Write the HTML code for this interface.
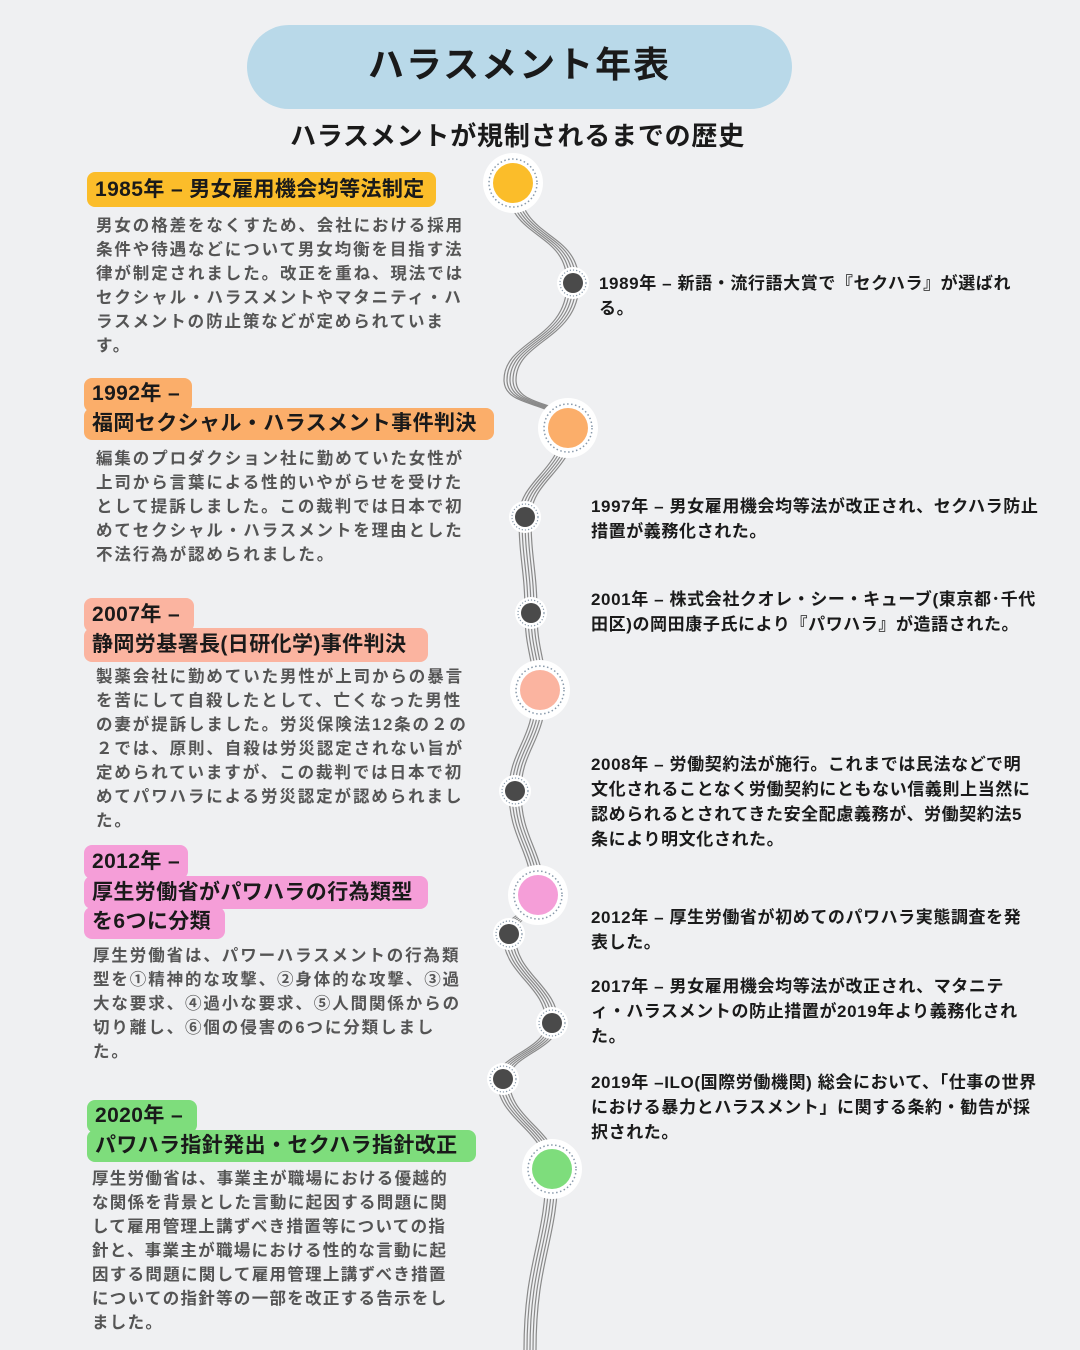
<!DOCTYPE html>
<html><head><meta charset="utf-8">
<style>
*{margin:0;padding:0;box-sizing:border-box}
body{width:1080px;height:1350px;background:#eff0f2;position:relative;overflow:hidden;font-family:"Liberation Sans","Noto Sans CJK JP",sans-serif;}
.a{position:absolute;white-space:nowrap}
.hdr{left:247px;top:25px;width:545px;height:84px;border-radius:42px;background:#b9d9e9;text-align:center;line-height:80px;font-size:36px;font-weight:bold;color:#1a1a1a;letter-spacing:2px}
.sub{left:0;width:1035px;top:120px;text-align:center;font-size:26px;font-weight:bold;color:#1a1a1a;line-height:32px;letter-spacing:0.8px}
.pill{position:absolute;border-radius:8px;font-size:21px;font-weight:bold;color:#1a1a1a;padding-left:8px;white-space:nowrap;letter-spacing:0.4px}
.body{position:absolute;white-space:nowrap;font-size:16.5px;font-weight:bold;color:#555;line-height:24px;letter-spacing:1.9px}
.r{position:absolute;white-space:nowrap;font-size:17px;font-weight:bold;color:#1a1a1a;line-height:25px;letter-spacing:0.6px}
</style></head><body>
<svg class="a" style="left:0;top:0" width="1080" height="1350">
<defs>
<path id="w" d="M513,183 C513,240 573,230 573,283 C573,340 510,340 510,380 C510,410 568,400 568,428 C568,470 525,480 525,517 C525,560 531,570 531,613 C531,650 540,660 540,690 C540,740 515,750 515,791 C515,840 538,850 538,895 C538,915 509,915 509,934 C509,975 552,985 552,1023 C552,1050 503,1055 503,1079 C503,1120 552,1130 552,1169 C552,1240 530,1260 530,1350" fill="none"/>
</defs>
<g stroke="#8a8a8a" stroke-width="1.2" fill="none">
<use href="#w" transform="translate(-6,0)"/><use href="#w" transform="translate(-3,0)"/><use href="#w"/><use href="#w" transform="translate(3,0)"/><use href="#w" transform="translate(6,0)"/>
</g>
<g>
<circle cx="513" cy="183" r="30" fill="#fff"/><circle cx="513" cy="183" r="24" fill="none" stroke="#8899aa" stroke-width="1.5" stroke-dasharray="1.5 2.5"/><circle cx="513" cy="183" r="20" fill="#fbbd2a"/>
<circle cx="568" cy="428" r="30" fill="#fff"/><circle cx="568" cy="428" r="24" fill="none" stroke="#8899aa" stroke-width="1.5" stroke-dasharray="1.5 2.5"/><circle cx="568" cy="428" r="20" fill="#fbae6a"/>
<circle cx="540" cy="690" r="30" fill="#fff"/><circle cx="540" cy="690" r="24" fill="none" stroke="#8899aa" stroke-width="1.5" stroke-dasharray="1.5 2.5"/><circle cx="540" cy="690" r="20" fill="#fbb4a0"/>
<circle cx="538" cy="895" r="30" fill="#fff"/><circle cx="538" cy="895" r="24" fill="none" stroke="#8899aa" stroke-width="1.5" stroke-dasharray="1.5 2.5"/><circle cx="538" cy="895" r="20" fill="#f59ed8"/>
<circle cx="552" cy="1169" r="30" fill="#fff"/><circle cx="552" cy="1169" r="24" fill="none" stroke="#8899aa" stroke-width="1.5" stroke-dasharray="1.5 2.5"/><circle cx="552" cy="1169" r="20" fill="#7edd7c"/>
</g>
<g>
<circle cx="573" cy="283" r="16" fill="#fff"/><circle cx="573" cy="283" r="13" fill="none" stroke="#8899aa" stroke-width="1.2" stroke-dasharray="1.2 2"/><circle cx="573" cy="283" r="10" fill="#4a4a4a"/>
<circle cx="525" cy="517" r="16" fill="#fff"/><circle cx="525" cy="517" r="13" fill="none" stroke="#8899aa" stroke-width="1.2" stroke-dasharray="1.2 2"/><circle cx="525" cy="517" r="10" fill="#4a4a4a"/>
<circle cx="531" cy="613" r="16" fill="#fff"/><circle cx="531" cy="613" r="13" fill="none" stroke="#8899aa" stroke-width="1.2" stroke-dasharray="1.2 2"/><circle cx="531" cy="613" r="10" fill="#4a4a4a"/>
<circle cx="515" cy="791" r="16" fill="#fff"/><circle cx="515" cy="791" r="13" fill="none" stroke="#8899aa" stroke-width="1.2" stroke-dasharray="1.2 2"/><circle cx="515" cy="791" r="10" fill="#4a4a4a"/>
<circle cx="509" cy="934" r="16" fill="#fff"/><circle cx="509" cy="934" r="13" fill="none" stroke="#8899aa" stroke-width="1.2" stroke-dasharray="1.2 2"/><circle cx="509" cy="934" r="10" fill="#4a4a4a"/>
<circle cx="552" cy="1023" r="16" fill="#fff"/><circle cx="552" cy="1023" r="13" fill="none" stroke="#8899aa" stroke-width="1.2" stroke-dasharray="1.2 2"/><circle cx="552" cy="1023" r="10" fill="#4a4a4a"/>
<circle cx="503" cy="1079" r="16" fill="#fff"/><circle cx="503" cy="1079" r="13" fill="none" stroke="#8899aa" stroke-width="1.2" stroke-dasharray="1.2 2"/><circle cx="503" cy="1079" r="10" fill="#4a4a4a"/>
</g>
</svg>

<div class="a hdr">ハラスメント年表</div>
<div class="a sub">ハラスメントが規制されるまでの歴史</div>

<div class="pill" style="left:87px;top:172px;width:349px;height:35px;line-height:35px;background:#fbbd2a">1985年 – 男女雇用機会均等法制定</div>
<div class="body" style="left:96px;top:214px">男女の格差をなくすため、会社における採用<br>条件や待遇などについて男女均衡を目指す法<br>律が制定されました。改正を重ね、現法では<br>セクシャル・ハラスメントやマタニティ・ハ<br>ラスメントの防止策などが定められていま<br>す。</div>

<div class="pill" style="left:84px;top:378px;width:108px;height:34px;line-height:32px;background:#fbae6a">1992年 –</div>
<div class="pill" style="left:84px;top:408px;width:410px;height:32px;line-height:32px;background:#fbae6a">福岡セクシャル・ハラスメント事件判決</div>
<div class="body" style="left:96px;top:447px">編集のプロダクション社に勤めていた女性が<br>上司から言葉による性的いやがらせを受けた<br>として提訴しました。この裁判では日本で初<br>めてセクシャル・ハラスメントを理由とした<br>不法行為が認められました。</div>

<div class="pill" style="left:84px;top:598px;width:110px;height:34px;line-height:33px;background:#fbb4a0">2007年 –</div>
<div class="pill" style="left:84px;top:628px;width:344px;height:34px;line-height:34px;background:#fbb4a0">静岡労基署長(日研化学)事件判決</div>
<div class="body" style="left:96px;top:665px">製薬会社に勤めていた男性が上司からの暴言<br>を苦にして自殺したとして、亡くなった男性<br>の妻が提訴しました。労災保険法12条の２の<br>２では、原則、自殺は労災認定されない旨が<br>定められていますが、この裁判では日本で初<br>めてパワハラによる労災認定が認められまし<br>た。</div>

<div class="pill" style="left:84px;top:845px;width:104px;height:34px;line-height:33px;background:#f59ed8">2012年 –</div>
<div class="pill" style="left:84px;top:876px;width:344px;height:33px;line-height:33px;background:#f59ed8">厚生労働省がパワハラの行為類型</div>
<div class="pill" style="left:84px;top:907px;width:141px;height:32px;line-height:30px;background:#f59ed8">を6つに分類</div>
<div class="body" style="left:93px;top:944px">厚生労働省は、パワーハラスメントの行為類<br>型を①精神的な攻撃、②身体的な攻撃、③過<br>大な要求、④過小な要求、⑤人間関係からの<br>切り離し、⑥個の侵害の6つに分類しまし<br>た。</div>

<div class="pill" style="left:87px;top:1100px;width:110px;height:33px;line-height:31px;background:#7edd7c">2020年 –</div>
<div class="pill" style="left:87px;top:1130px;width:389px;height:32px;line-height:32px;background:#7edd7c">パワハラ指針発出・セクハラ指針改正</div>
<div class="body" style="left:92px;top:1167px;letter-spacing:1.3px">厚生労働省は、事業主が職場における優越的<br>な関係を背景とした言動に起因する問題に関<br>して雇用管理上講ずべき措置等についての指<br>針と、事業主が職場における性的な言動に起<br>因する問題に関して雇用管理上講ずべき措置<br>についての指針等の一部を改正する告示をし<br>ました。</div>

<div class="r" style="left:599px;top:271px">1989年 – 新語・流行語大賞で『セクハラ』が選ばれ<br>る。</div>
<div class="r" style="left:591px;top:494px">1997年 – 男女雇用機会均等法が改正され、セクハラ防止<br>措置が義務化された。</div>
<div class="r" style="left:591px;top:587px">2001年 – 株式会社クオレ・シー・キューブ(東京都･千代<br>田区)の岡田康子氏により『パワハラ』が造語された。</div>
<div class="r" style="left:591px;top:752px">2008年 – 労働契約法が施行。これまでは民法などで明<br>文化されることなく労働契約にともない信義則上当然に<br>認められるとされてきた安全配慮義務が、労働契約法5<br>条により明文化された。</div>
<div class="r" style="left:591px;top:905px">2012年 – 厚生労働省が初めてのパワハラ実態調査を発<br>表した。</div>
<div class="r" style="left:591px;top:974px">2017年 – 男女雇用機会均等法が改正され、マタニテ<br>ィ・ハラスメントの防止措置が2019年より義務化され<br>た。</div>
<div class="r" style="left:591px;top:1070px">2019年 –ILO(国際労働機関) 総会において、「仕事の世界<br>における暴力とハラスメント」に関する条約・勧告が採<br>択された。</div>
</body></html>
